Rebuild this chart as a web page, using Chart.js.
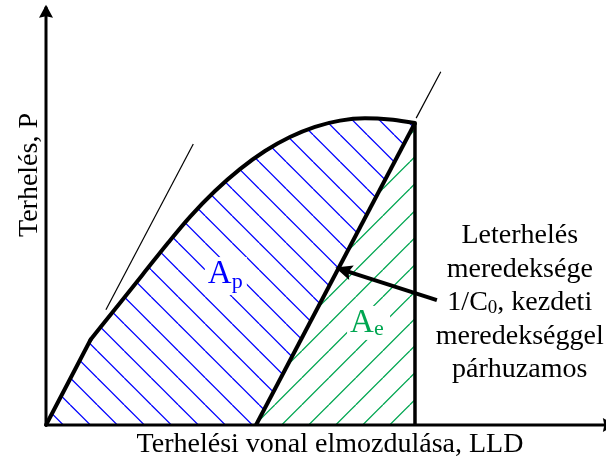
<!DOCTYPE html>
<html>
<head>
<meta charset="utf-8">
<script src="https://cdn.jsdelivr.net/npm/chart.js@4.4.1/dist/chart.umd.min.js"></script>
<style>
  html, body { margin: 0; padding: 0; background: #fff; }
</style>
</head>
<body>
<canvas id="chart" width="606" height="457"></canvas>
<script>
// load path: displacement (LLD) and load (P), relative units 0..100
// first three points are the straight initial loading, the rest is the curved part
const loadX = [0, 4.0, 7.98, 13.21, 17.68, 21.84, 25.71, 30.18, 34.64, 39.11, 43.57, 48.04, 52.5, 56.96, 61.43, 65.89];
const loadY = [0, 10.06, 20.12, 28.73, 36.09, 42.94, 48.99, 55.06, 60.21, 64.47, 67.76, 70.16, 71.62, 72.16, 71.88, 71.06];
const KINK = 2;

// unloading line, parallel to the initial slope
const unloadX = [37.5, 65.89];
const unloadY = [0, 71.06];

// thin guide lines showing the two slopes
const guideLowX = [10.7, 26.3];
const guideLowY = [27.1, 66.1];
const guideTopX = [66.1, 70.5];
const guideTopY = [72.2, 83.1];

// callout arrow: from the note to the unloading line
const noteArrowX = [69.8, 52.0];
const noteArrowY = [29.4, 36.9];

// axis ends
const axisEndX = 101.4;
const axisEndY = 98.4;

const noteLines = ['Leterhelés', 'meredeksége', null, 'meredekséggel', 'párhuzamos'];

const pts = (xs, ys) => xs.map((x, i) => ({ x, y: ys[i] }));

const BLUE = '#0000ff';
const GREEN = '#00a651';
const SERIF = '"Liberation Serif", "Times New Roman", serif';

const ctx = document.getElementById('chart').getContext('2d');

// 45 degree hatch, 27px tile; dir 1 = "\" lines, -1 = "/" lines
function hatch(color, dir, phase) {
  const n = 27;
  const tile = document.createElement('canvas');
  tile.width = n;
  tile.height = n;
  const t = tile.getContext('2d');
  t.strokeStyle = color;
  t.lineWidth = 1.3;
  t.beginPath();
  for (let k = -2; k <= 2; k++) {
    const x0 = phase + k * n;
    t.moveTo(x0, 0);
    t.lineTo(x0 + dir * n, n);
  }
  t.stroke();
  return ctx.createPattern(tile, 'repeat');
}

function arrowHead(c, from, to, len, half, notch) {
  const dx = to.x - from.x, dy = to.y - from.y;
  const d = Math.hypot(dx, dy);
  const ux = dx / d, uy = dy / d;
  const tx = to.x + ux * 2, ty = to.y + uy * 2;
  const bx = tx - ux * len, by = ty - uy * len;
  c.beginPath();
  c.moveTo(tx, ty);
  c.lineTo(bx - uy * half, by + ux * half);
  c.lineTo(bx + ux * notch, by + uy * notch);
  c.lineTo(bx + uy * half, by - ux * half);
  c.closePath();
  c.fill();
}

// text made of runs with different sizes (subscripts)
function runs(c, parts, x, y, align) {
  let w = 0;
  parts.forEach(p => { c.font = p.size + 'px ' + SERIF; p.w = c.measureText(p.t).width; w += p.w; });
  let cx = align === 'center' ? x - w / 2 : x;
  c.textAlign = 'left';
  parts.forEach(p => {
    c.font = p.size + 'px ' + SERIF;
    c.fillText(p.t, cx, y + (p.dy || 0));
    cx += p.w;
  });
}

const labels = {
  id: 'labels',
  afterDatasetsDraw(chart) {
    const c = chart.ctx;
    const { x, y } = chart.scales;
    const px = (vx, vy) => ({ x: x.getPixelForValue(vx), y: y.getPixelForValue(vy) });
    c.save();
    c.fillStyle = '#000';

    // axis arrow heads
    arrowHead(c, px(0, 0), px(0, axisEndY), 13, 7, 1.5);
    arrowHead(c, px(0, 0), px(axisEndX, 0), 13, 7, 1.5);
    // callout arrow head
    arrowHead(c, px(noteArrowX[0], noteArrowY[0]), px(noteArrowX[1], noteArrowY[1]), 17, 7.5, 3);

    c.textBaseline = 'alphabetic';

    // area labels on a white patch
    const ap = px(28.9, 33.4);
    c.fillStyle = '#fff';
    c.fillRect(ap.x - 3, ap.y - 26, 42, 38);
    c.fillStyle = BLUE;
    runs(c, [{ t: 'A', size: 33 }, { t: 'p', size: 22, dy: 5 }], ap.x, ap.y, 'left');

    const ae = px(54.3, 21.9);
    c.fillStyle = '#fff';
    c.fillRect(ae.x - 3, ae.y - 26, 43, 34);
    c.fillStyle = GREEN;
    runs(c, [{ t: 'A', size: 33 }, { t: 'e', size: 22, dy: 3 }], ae.x, ae.y, 'left');

    // note next to the arrow
    c.fillStyle = '#000';
    const n = px(84.6, 42.8);
    noteLines.forEach((line, i) => {
      const by = n.y + i * 33.5;
      if (line === null) {
        runs(c, [{ t: '1/C', size: 28 }, { t: '0', size: 19, dy: 3 }, { t: ', kezdeti', size: 28 }], n.x, by, 'center');
      } else {
        runs(c, [{ t: line, size: 28 }], n.x, by, 'center');
      }
    });

    // axis titles
    runs(c, [{ t: 'Terhelési vonal elmozdulása, LLD', size: 28 }], 330, 452, 'center');
    c.translate(37, 175);
    c.rotate(-Math.PI / 2);
    runs(c, [{ t: 'Terhelés, P', size: 28 }], 0, 0, 'center');
    c.restore();
  }
};

const line = (data, width, extra) => Object.assign({
  data, borderColor: '#000', borderWidth: width, pointRadius: 0,
  fill: false, tension: 0, clip: false, borderCapStyle: 'butt'
}, extra || {});

new Chart(ctx, {
  type: 'line',
  data: {
    datasets: [
      // plastic part: between the load path and unloading line / axis
      line(pts(loadX, loadY), 0, {
        fill: '+1', backgroundColor: hatch(BLUE, 1, 16.3),
        cubicInterpolationMode: 'monotone'
      }),
      line(pts([0, unloadX[0], unloadX[1]], [0, unloadY[0], unloadY[1]]), 0),
      // elastic part under the unloading line
      line(pts(unloadX, unloadY), 4, { fill: 'origin', backgroundColor: hatch(GREEN, -1, 4.7) }),
      // load path outline: straight start, then the curved part
      line(pts(loadX.slice(0, KINK + 1), loadY.slice(0, KINK + 1)), 4, { borderCapStyle: 'round' }),
      line(pts(loadX.slice(KINK), loadY.slice(KINK)), 4, {
        cubicInterpolationMode: 'monotone', borderCapStyle: 'round'
      }),
      line(pts([unloadX[1], unloadX[1]], [0, unloadY[1]]), 3.5),
      line(pts(guideLowX, guideLowY), 1.2),
      line(pts(guideTopX, guideTopY), 1.2),
      line(pts(noteArrowX, noteArrowY), 4),
      // axes
      line(pts([0, axisEndX], [0, 0]), 3),
      line(pts([0, 0], [0, axisEndY]), 3)
    ]
  },
  options: {
    responsive: false,
    animation: false,
    devicePixelRatio: 1,
    layout: { padding: { left: 46, right: 0, top: 0, bottom: 32 } },
    scales: {
      x: { type: 'linear', display: false, min: 0, max: 100 },
      y: { type: 'linear', display: false, min: 0, max: 100 }
    },
    plugins: {
      legend: { display: false },
      tooltip: { enabled: false },
      filler: { drawTime: 'beforeDatasetsDraw' }
    }
  },
  plugins: [labels]
});
</script>
</body>
</html>
